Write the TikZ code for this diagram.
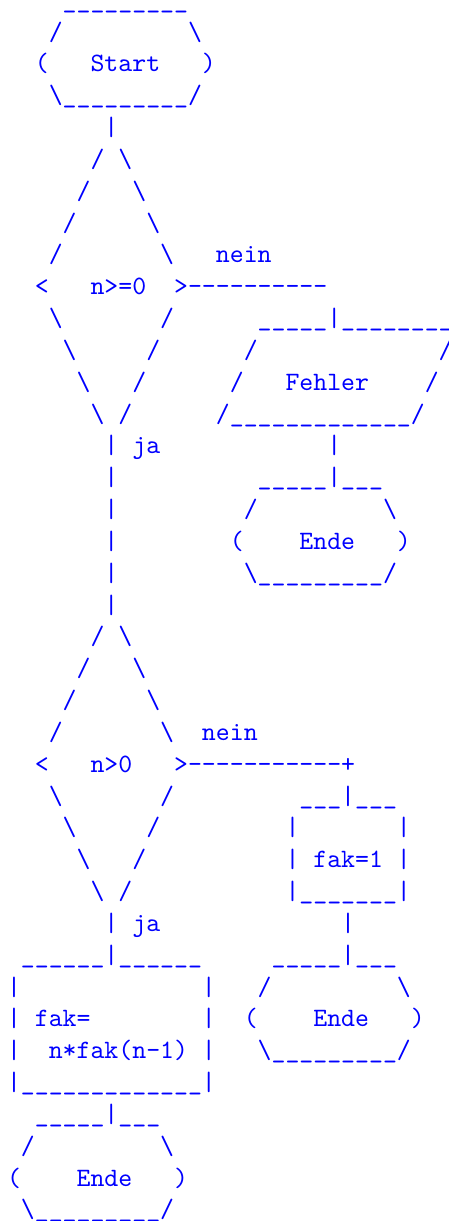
\documentclass[tikz,border=0pt]{standalone}
\tikzset{
  asc/.style={anchor=base west, inner sep=0pt, outer sep=0pt, font=\ttfamily\fontsize{10pt}{12pt}\selectfont, text=blue}
}
% character cell: 5.25pt wide, 12pt line pitch
\newcommand\glyphat[3]{\node[asc] (t#1-#2) at (#2*5.25pt, -#1*12pt) {#3};}
\newcommand\us[1]{\foreach \k in {1,...,#1}{\_}}
\newcommand\dsh[1]{\foreach \k in {1,...,#1}{\mbox{-}}}
\newcommand\bs{\textbackslash}
\begin{document}
\begin{tikzpicture}
\useasboundingbox (-2.64pt,3.1pt) rectangle (166.6pt,-457.2pt);
% Start
\glyphat{0}{4}{\us{9}}
\glyphat{1}{3}{/}\glyphat{1}{13}{\bs}
\glyphat{2}{2}{(}\glyphat{2}{6}{Start}\glyphat{2}{14}{)}
\glyphat{3}{3}{\bs}\glyphat{3}{4}{\us{9}}\glyphat{3}{13}{/}
\glyphat{4}{7}{|}
% decision n>=0
\glyphat{5}{6}{/}\glyphat{5}{8}{\bs}
\glyphat{6}{5}{/}\glyphat{6}{9}{\bs}
\glyphat{7}{4}{/}\glyphat{7}{10}{\bs}
\glyphat{8}{3}{/}\glyphat{8}{11}{\bs}\glyphat{8}{15}{nein}
\glyphat{9}{2}{<}\glyphat{9}{6}{n>=0}\glyphat{9}{12}{>}\glyphat{9}{13}{\dsh{10}}
\glyphat{10}{3}{\bs}\glyphat{10}{11}{/}\glyphat{10}{18}{\us{5}}\glyphat{10}{23}{|}\glyphat{10}{24}{\us{8}}
\glyphat{11}{4}{\bs}\glyphat{11}{10}{/}\glyphat{11}{17}{/}\glyphat{11}{31}{/}
\glyphat{12}{5}{\bs}\glyphat{12}{9}{/}\glyphat{12}{16}{/}\glyphat{12}{20}{Fehler}\glyphat{12}{30}{/}
\glyphat{13}{6}{\bs}\glyphat{13}{8}{/}\glyphat{13}{15}{/}\glyphat{13}{16}{\us{13}}\glyphat{13}{29}{/}
\glyphat{14}{7}{|}\glyphat{14}{9}{ja}\glyphat{14}{23}{|}
% Ende after Fehler
\glyphat{15}{7}{|}\glyphat{15}{18}{\us{5}}\glyphat{15}{23}{|}\glyphat{15}{24}{\us{3}}
\glyphat{16}{7}{|}\glyphat{16}{17}{/}\glyphat{16}{27}{\bs}
\glyphat{17}{7}{|}\glyphat{17}{16}{(}\glyphat{17}{21}{Ende}\glyphat{17}{28}{)}
\glyphat{18}{7}{|}\glyphat{18}{17}{\bs}\glyphat{18}{18}{\us{9}}\glyphat{18}{27}{/}
\glyphat{19}{7}{|}
% decision n>0
\glyphat{20}{6}{/}\glyphat{20}{8}{\bs}
\glyphat{21}{5}{/}\glyphat{21}{9}{\bs}
\glyphat{22}{4}{/}\glyphat{22}{10}{\bs}
\glyphat{23}{3}{/}\glyphat{23}{11}{\bs}\glyphat{23}{14}{nein}
\glyphat{24}{2}{<}\glyphat{24}{6}{n>0}\glyphat{24}{12}{>}\glyphat{24}{13}{\dsh{11}}\glyphat{24}{24}{+}
\glyphat{25}{3}{\bs}\glyphat{25}{11}{/}\glyphat{25}{21}{\us{3}}\glyphat{25}{24}{|}\glyphat{25}{25}{\us{3}}
\glyphat{26}{4}{\bs}\glyphat{26}{10}{/}\glyphat{26}{20}{|}\glyphat{26}{28}{|}
\glyphat{27}{5}{\bs}\glyphat{27}{9}{/}\glyphat{27}{20}{|}\glyphat{27}{22}{fak=1}\glyphat{27}{28}{|}
\glyphat{28}{6}{\bs}\glyphat{28}{8}{/}\glyphat{28}{20}{|}\glyphat{28}{21}{\us{7}}\glyphat{28}{28}{|}
\glyphat{29}{7}{|}\glyphat{29}{9}{ja}\glyphat{29}{24}{|}
% fak=n*fak(n-1) and the two Ende terminals
\glyphat{30}{1}{\us{6}}\glyphat{30}{7}{|}\glyphat{30}{8}{\us{6}}\glyphat{30}{19}{\us{5}}\glyphat{30}{24}{|}\glyphat{30}{25}{\us{3}}
\glyphat{31}{0}{|}\glyphat{31}{14}{|}\glyphat{31}{18}{/}\glyphat{31}{28}{\bs}
\glyphat{32}{0}{|}\glyphat{32}{2}{fak=}\glyphat{32}{14}{|}\glyphat{32}{17}{(}\glyphat{32}{22}{Ende}\glyphat{32}{29}{)}
\glyphat{33}{0}{|}\glyphat{33}{3}{n*fak(n-1)}\glyphat{33}{14}{|}\glyphat{33}{18}{\bs}\glyphat{33}{19}{\us{9}}\glyphat{33}{28}{/}
\glyphat{34}{0}{|}\glyphat{34}{1}{\us{13}}\glyphat{34}{14}{|}
\glyphat{35}{2}{\us{5}}\glyphat{35}{7}{|}\glyphat{35}{8}{\us{3}}
\glyphat{36}{1}{/}\glyphat{36}{11}{\bs}
\glyphat{37}{0}{(}\glyphat{37}{5}{Ende}\glyphat{37}{12}{)}
\glyphat{38}{1}{\bs}\glyphat{38}{2}{\us{9}}\glyphat{38}{11}{/}
\end{tikzpicture}
\end{document}
